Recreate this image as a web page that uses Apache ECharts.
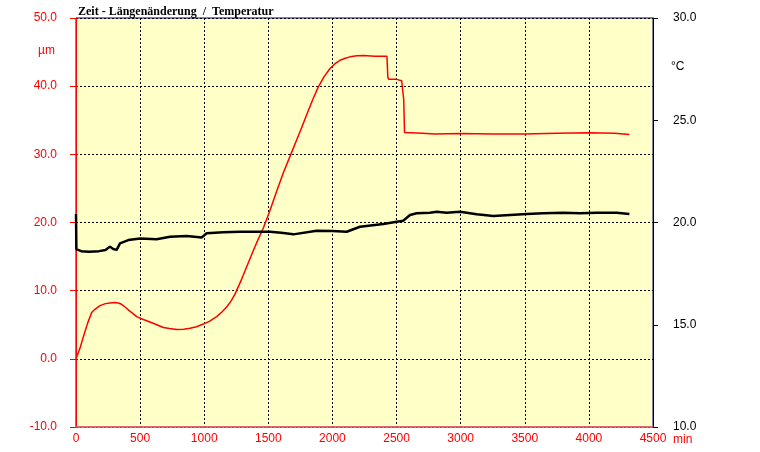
<!DOCTYPE html>
<html>
<head>
<meta charset="utf-8">
<script src="https://cdn.jsdelivr.net/npm/echarts@6/dist/echarts.min.js"></script>
<style>html,body{margin:0;padding:0;background:#fff}#c{width:760px;height:452px}</style>
</head>
<body>
<div id="c"></div>
<script>
// Length change (µm, left axis)
var lengthTime = [0,5,30,57,90,122,150,187,230,265,300,330,355,382,420,473,520,577,630,681,730,785,840,889,940,993,1040,1097,1140,1175,1210,1240,1292,1340,1383,1422,1461,1510,1565,1617,1669,1747,1799,1850,1890,1935,1981,2020,2059,2100,2137,2190,2241,2330,2425,2432,2440,2500,2540,2550,2556,2562,2575,2700,2800,3000,3250,3500,3750,4000,4200,4316];
var lengthValues = [0,0,1.5,3.2,5.2,6.8,7.3,7.8,8.1,8.2,8.25,8.2,8.0,7.6,7.0,6.2,5.8,5.4,5.0,4.6,4.45,4.3,4.35,4.5,4.7,5.1,5.5,6.2,6.9,7.6,8.5,9.5,11.7,13.9,15.9,17.6,19.2,21.6,24.6,27.3,29.7,33.3,35.8,38.2,39.9,41.4,42.6,43.3,43.8,44.1,44.3,44.45,44.5,44.4,44.4,41.3,41.0,41.0,40.8,40.6,38,33.2,33.0,33.1,33.0,33.05,33.0,33.0,33.1,33.15,33.1,32.9];
// Temperature (°C, right axis)
var tempTime = [0,3,10,40,100,180,230,265,290,317,343,408,500,629,733,863,980,1019,1149,1279,1383,1513,1600,1695,1877,2000,2111,2215,2397,2501,2553,2605,2657,2761,2813,2891,2995,3125,3255,3385,3515,3645,3801,3931,4061,4217,4316];
var tempValues = [20.42,18.7,18.66,18.6,18.57,18.6,18.65,18.82,18.7,18.66,18.98,19.14,19.22,19.18,19.30,19.34,19.27,19.47,19.52,19.55,19.55,19.55,19.5,19.42,19.60,19.58,19.55,19.79,19.93,20.04,20.09,20.37,20.45,20.48,20.53,20.48,20.53,20.40,20.32,20.37,20.42,20.45,20.48,20.45,20.48,20.48,20.42];
// Ticks
var xTicks = {min:0, max:4500, interval:500};
var yLeftTicks = {min:-10, max:50, interval:10};
var yRightTicks = {min:10, max:30, interval:5};

function zip(a,b){return a.map(function(v,i){return [v,b[i]];});}

var chart = echarts.init(document.getElementById('c'), null, {renderer:'canvas'});
var font = 'Liberation Sans, Arial, sans-serif';
chart.setOption({
  animation:false,
  backgroundColor:'#ffffff',
  title:{
    text:'Zeit - Längenänderung  /  Temperatur',
    left:73, top:1,
    textStyle:{fontFamily:'Liberation Serif, Times New Roman, serif', fontWeight:'bold', fontSize:12, color:'#000'}
  },
  grid:{left:76, right:107, top:18, bottom:25, show:true, backgroundColor:'#ffffc8', borderColor:'#000080', borderWidth:1},
  xAxis:{
    type:'value', min:xTicks.min, max:xTicks.max, interval:xTicks.interval,
    name:'min', nameLocation:'end', nameGap:20,
    nameTextStyle:{color:'#ff0000', fontFamily:font, fontSize:12, verticalAlign:'top', padding:[7,0,0,0]},
    axisLine:{show:true, onZero:false, lineStyle:{color:'#ff6060', width:1.5}},
    axisTick:{show:false},
    axisLabel:{color:'#ff0000', fontFamily:font, fontSize:12, margin:6, formatter:function(v){return String(v);}},
    splitLine:{show:true, lineStyle:{color:'#000', type:[2,2], width:1}}
  },
  yAxis:[{
    type:'value', position:'left', min:yLeftTicks.min, max:yLeftTicks.max, interval:yLeftTicks.interval,
    axisLine:{show:true, lineStyle:{color:'#ff0000', width:1}},
    axisTick:{show:true, length:6, lineStyle:{color:'#ff0000'}},
    axisLabel:{color:'#ff0000', fontFamily:font, fontSize:12, margin:19, formatter:function(v){return v.toFixed(1);}},
    splitLine:{show:true, lineStyle:{color:'#000', type:[2,2], width:1}}
  },{
    type:'value', position:'right', min:yRightTicks.min, max:yRightTicks.max, interval:yRightTicks.interval,
    axisLine:{show:true, lineStyle:{color:'#000', width:1}},
    axisTick:{show:true, length:5, lineStyle:{color:'#000'}},
    axisLabel:{color:'#000', fontFamily:font, fontSize:12, margin:20, formatter:function(v){return v.toFixed(1);}},
    splitLine:{show:false}
  }],
  graphic:[
    {type:'text', left:38, top:45, style:{text:'µm', fill:'#ff0000', font:'12px '+font}},
    {type:'text', left:671, top:61, style:{text:'°C', fill:'#000', font:'12px '+font}}
  ],
  series:[{
    type:'line', yAxisIndex:0, data:zip(lengthTime,lengthValues), showSymbol:false,
    lineStyle:{color:'#ff0000', width:1.5}, z:3
  },{
    type:'line', yAxisIndex:1, data:zip(tempTime,tempValues), showSymbol:false,
    lineStyle:{color:'#000', width:2.5}, z:4
  }]
});
</script>
</body>
</html>
